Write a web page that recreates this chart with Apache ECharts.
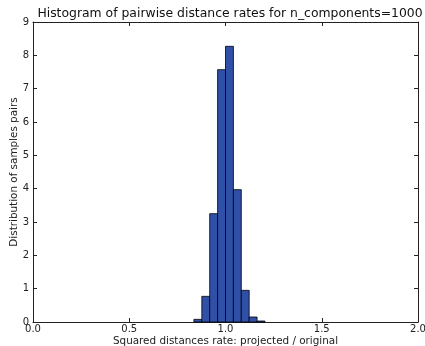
<!DOCTYPE html>
<html>
<head>
<meta charset="utf-8">
<script src="https://cdn.jsdelivr.net/npm/echarts@6/dist/echarts.min.js"></script>
<style>html,body{margin:0;padding:0;background:#fff}#main{width:425px;height:346px}</style>
</head>
<body>
<div id="main"></div>
<script>
// histogram bins (left edge of each bin), bin width and heights
var binStarts = [0.836, 0.877, 0.918, 0.959, 1.000, 1.041, 1.082, 1.123, 1.164];
var binWidth = 0.041;
var heights = [0.08, 0.77, 3.25, 7.57, 8.27, 3.97, 0.95, 0.15, 0.03];
var xTicks = ['0.0', '0.5', '1.0', '1.5', '2.0'];

var chart = echarts.init(document.getElementById('main'));
var font = 'DejaVu Sans';
var data = binStarts.map(function (s, i) { return [s, s + binWidth, heights[i]]; });

var tickStyle = { show: true, inside: true, length: 4, lineStyle: { color: '#222' } };
var lineStyle = { show: true, onZero: false, lineStyle: { color: '#222', width: 1 } };

option = {
    animation: false,
    title: {
        text: 'Histogram of pairwise distance rates for n_components=1000',
        left: 225, top: 3, textAlign: 'center',
        textStyle: { fontFamily: font, fontSize: 12.4, fontWeight: 'normal', color: '#111' }
    },
    grid: { left: 33, right: 7, top: 22, bottom: 24, outerBoundsMode: 'none', containLabel: false },
    xAxis: [{
        type: 'value', min: 0, max: 2, interval: 0.5,
        axisLine: lineStyle, axisTick: tickStyle, splitLine: { show: false },
        axisLabel: { fontFamily: font, fontSize: 10, color: '#222', margin: 2,
            formatter: function (v) { return xTicks[Math.round(v * 2)]; } },
        name: 'Squared distances rate: projected / original',
        nameLocation: 'middle', nameGap: 14, nameMoveOverlap: false,
        nameTextStyle: { fontFamily: font, fontSize: 10.4, color: '#222' }
    }, {
        type: 'value', position: 'top', min: 0, max: 2, interval: 0.5,
        axisLine: lineStyle, axisTick: tickStyle, axisLabel: { show: false }, splitLine: { show: false }
    }],
    yAxis: [{
        type: 'value', min: 0, max: 9, interval: 1,
        axisLine: lineStyle, axisTick: tickStyle, splitLine: { show: false },
        axisLabel: { fontFamily: font, fontSize: 10, color: '#222', margin: 4 },
        name: 'Distribution of samples pairs',
        nameLocation: 'middle', nameGap: 14, nameMoveOverlap: false,
        nameTextStyle: { fontFamily: font, fontSize: 10.4, color: '#222' }
    }, {
        type: 'value', position: 'right', min: 0, max: 9, interval: 1,
        axisLine: lineStyle, axisTick: tickStyle, axisLabel: { show: false }, splitLine: { show: false }
    }],
    series: [{
        type: 'custom',
        xAxisIndex: 0, yAxisIndex: 0,
        encode: { x: [0, 1], y: 2 },
        data: data,
        renderItem: function (params, api) {
            var p0 = api.coord([api.value(0), 0]);
            var p1 = api.coord([api.value(1), api.value(2)]);
            return {
                type: 'rect',
                shape: { x: p0[0], y: p1[1], width: p1[0] - p0[0], height: p0[1] - p1[1] },
                style: { fill: '#3050a8', stroke: '#000', lineWidth: 0.8 }
            };
        }
    }]
};
chart.setOption(option);
</script>
</body>
</html>
